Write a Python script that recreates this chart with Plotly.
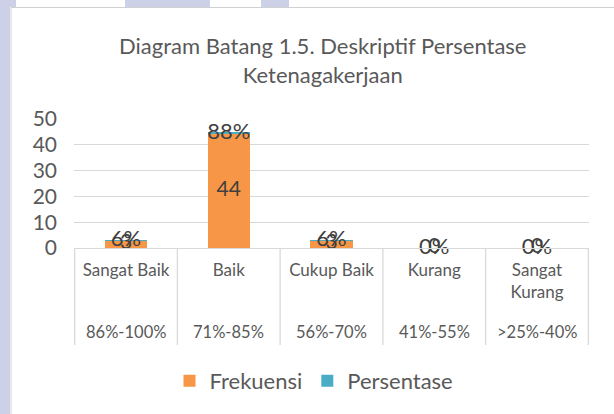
import plotly.graph_objects as go

categories = ["Sangat Baik", "Baik", "Cukup Baik", "Kurang", "Sangat<br>Kurang"]
ranges = ["86%-100%", "71%-85%", "56%-70%", "41%-55%", ">25%-40%"]
frekuensi = [3, 44, 3, 0, 0]
persentase = [0.06, 0.88, 0.06, 0.0, 0.0]
yticks = [0, 10, 20, 30, 40, 50]
title_text = "Diagram Batang 1.5. Deskriptif Persentase<br>Ketenagakerjaan"

FONT = "Lato"
ORANGE = "#F79646"
BLUE = "#4BACC6"
GRID = "#D9D9D9"
TXT = "#595959"
LBL = "#404040"
LAV = "#CDD1E8"

W, H = 614, 414
L, R, T, B = 74, 25, 119, 166
pw, ph = W - L - R, H - T - B

def px(x):
    return (x - L) / pw

def py(y):
    return (H - B - y) / ph

fig = go.Figure()
fig.add_bar(x=categories, y=frekuensi, name="Frekuensi", marker_color=ORANGE,
            width=0.41, marker_line_width=0)
fig.add_bar(x=categories, y=persentase, name="Persentase", marker_color=BLUE,
            width=0.41, marker_line_width=0)

# data labels
fig.add_scatter(x=categories, y=[f / 2 for f in frekuensi], mode="text",
                text=[str(f) for f in frekuensi], showlegend=False, hoverinfo="skip",
                textfont=dict(family=FONT, size=21, color=LBL), cliponaxis=False)
fig.add_scatter(x=categories, y=[f + p / 2 for f, p in zip(frekuensi, persentase)], mode="text",
                text=[f"{round(p * 100)}%" for p in persentase], showlegend=False, hoverinfo="skip",
                textfont=dict(family=FONT, size=22, color=LBL), cliponaxis=False)

shapes = []
# dividers of category axis
for i in range(len(categories) + 1):
    shapes.append(dict(type="line", xref="x", yref="paper", x0=i - 0.5, x1=i - 0.5,
                       y0=0, y1=py(345), line=dict(color=GRID, width=1.3)))
# page decoration
for (a, b) in [(0, 16), (125, 210), (261, 289)]:
    shapes.append(dict(type="rect", xref="paper", yref="paper", x0=px(a), x1=px(b), y0=py(0), y1=py(7),
                       fillcolor=LAV, line_width=0, layer="below"))
shapes.append(dict(type="rect", xref="paper", yref="paper", x0=px(0), x1=px(10), y0=py(0), y1=py(H),
                   fillcolor=LAV, line_width=0, layer="below"))
shapes.append(dict(type="line", xref="paper", yref="paper", x0=px(11), x1=px(W), y0=py(7.5), y1=py(7.5),
                   line=dict(color="#D0D0D0", width=1)))
shapes.append(dict(type="line", xref="paper", yref="paper", x0=px(11), x1=px(11), y0=py(7.5), y1=py(H),
                   line=dict(color="#D0D0D0", width=1)))

annotations = [dict(text=title_text, xref="paper", yref="paper", x=px(322), y=py(60),
                    xanchor="center", yanchor="middle", showarrow=False,
                    font=dict(family=FONT, size=22, color=TXT))]
for c, r in zip(categories, ranges):
    annotations.append(dict(text=r, xref="x", yref="paper", x=c, y=py(332),
                            xanchor="center", yanchor="middle", showarrow=False,
                            font=dict(family=FONT, size=16.5, color=TXT)))

fig.update_layout(
    width=W, height=H,
    margin=dict(l=L, r=R, t=T, b=B, pad=0),
    paper_bgcolor="white", plot_bgcolor="white",
    barmode="stack", bargap=0.59,
    font=dict(family=FONT, color=TXT),
    showlegend=True,
    legend=dict(orientation="h", x=px(314), xanchor="center", y=py(381), yanchor="middle",
                font=dict(family=FONT, size=22, color=TXT), traceorder="normal",
                itemwidth=30),
    shapes=shapes, annotations=annotations,
    xaxis=dict(showgrid=False, showline=True, linecolor=GRID, linewidth=1.3, ticks="",
               tickfont=dict(family=FONT, size=17, color=TXT), ticklabelstandoff=6,
               fixedrange=True),
    yaxis=dict(range=[0, 50], tickvals=yticks, showgrid=True, gridcolor=GRID, gridwidth=1.3,
               zeroline=False, showline=False, ticks="",
               tickfont=dict(family=FONT, size=21, color=TXT), ticklabelstandoff=16,
               fixedrange=True),
)

fig.write_html("out.html", config={"displayModeBar": False},
               post_script="document.body.style.margin='0';")
